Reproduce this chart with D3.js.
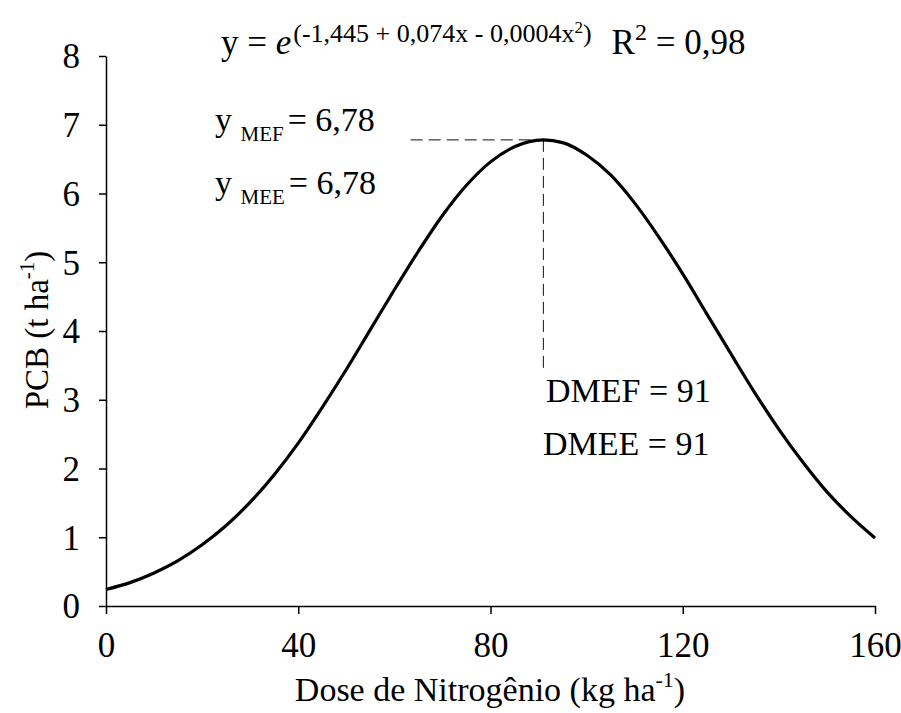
<!DOCTYPE html>
<html>
<head>
<meta charset="utf-8">
<script src="https://cdn.jsdelivr.net/npm/d3@7"></script>
<style>
    body { margin: 0; background: #fff; }
    text { font-family: "Liberation Serif", "Times New Roman", serif; fill: #000; }
</style>
</head>
<body>
<svg></svg>
<script>
let W = 901;
let H = 713;

// curve (dose kg/ha -> PCB t/ha)
let doses = [0, 5, 10, 15, 20, 25, 30, 35, 40, 45, 50, 55, 60, 65, 70, 75, 80, 85, 91,
    95, 100, 105, 110, 115, 120, 125, 130, 135, 140, 145, 150, 155, 160];
let pcb = [0.24, 0.34, 0.48, 0.66, 0.89, 1.17, 1.51, 1.91, 2.37, 2.89, 3.44, 4.02, 4.60, 5.16, 5.68, 6.12, 6.46, 6.68, 6.78,
    6.74, 6.56, 6.27, 5.86, 5.37, 4.83, 4.25, 3.67, 3.10, 2.57, 2.09, 1.66, 1.30, 0.99];

let xTicks = [0, 40, 80, 120, 160];
let yTicks = [0, 1, 2, 3, 4, 5, 6, 7, 8];

let doseMax = 91;
let yMax = 6.78;
let hLineStart = 63.4;
let vLineEnd = 3.39;

let svg = d3.select("svg").attr("width", W).attr("height", H);

let x = d3.scaleLinear().domain([0, 160]).range([106, 875]);
let y = d3.scaleLinear().domain([0, 8]).range([606, 56]);

// axes
let xAxis = svg.append("g")
    .attr("transform", "translate(0," + y(0) + ")")
    .call(d3.axisBottom(x).tickValues(xTicks).tickSize(8).tickSizeOuter(0));

let yAxis = svg.append("g")
    .attr("transform", "translate(" + x(0) + ",0)")
    .call(d3.axisLeft(y).tickValues(yTicks).tickSize(7).tickPadding(19).tickSizeOuter(0));

svg.selectAll(".domain, .tick line").attr("stroke", "#000").attr("stroke-width", 1.5);
svg.selectAll(".tick text")
    .style("font-family", "Liberation Serif")
    .style("font-size", "35px")
    .attr("fill", "#000");
xAxis.selectAll(".tick text").attr("y", 51).attr("dy", 0);
yAxis.selectAll(".tick text").attr("dy", "0.34em");

// dashed guide lines
svg.append("line")
    .attr("x1", x(hLineStart)).attr("y1", y(yMax))
    .attr("x2", x(doseMax)).attr("y2", y(yMax))
    .attr("stroke", "#111").attr("stroke-width", 1).attr("stroke-dasharray", "12,6");
svg.append("line")
    .attr("x1", x(doseMax)).attr("y1", y(yMax))
    .attr("x2", x(doseMax)).attr("y2", y(vLineEnd))
    .attr("stroke", "#111").attr("stroke-width", 1).attr("stroke-dasharray", "12,6");

// curve
let line = d3.line()
    .x(function (d, i) { return x(doses[i]); })
    .y(function (d) { return y(d); })
    .curve(d3.curveMonotoneX);

svg.append("path")
    .attr("d", line(pcb))
    .attr("fill", "none")
    .attr("stroke", "#000")
    .attr("stroke-width", 3.2);

// equation
let eq = svg.append("text").attr("x", 221).attr("y", 54).style("font-size", "35px");
eq.append("tspan").text("y = ");
eq.append("tspan").style("font-style", "italic").text("e");
eq.append("tspan").attr("dx", 2).attr("dy", -12).style("font-size", "26px").text("(-1,445 + 0,074x - 0,0004x");
eq.append("tspan").attr("dy", -9).style("font-size", "17px").text("2");
eq.append("tspan").attr("dy", 9).style("font-size", "26px").text(")");
eq.append("tspan").attr("dy", 12).attr("dx", 20).text("R");
eq.append("tspan").attr("dy", -14).style("font-size", "24px").text("2");
eq.append("tspan").attr("dy", 14).text(" = 0,98");

// maximum annotations
function yLabel(yy, sub) {
    let t = svg.append("text").attr("x", 215).attr("y", yy).style("font-size", "34px");
    t.append("tspan").text("y ");
    t.append("tspan").attr("dy", 10).style("font-size", "21px").text(sub);
    t.append("tspan").attr("dy", -10).attr("dx", 4).text("= 6,78");
}
yLabel(131, "MEF");
yLabel(194, "MEE");

svg.append("text").attr("x", 546).attr("y", 402).style("font-size", "34px").text("DMEF = 91");
svg.append("text").attr("x", 543).attr("y", 455).style("font-size", "34px").text("DMEE = 91");

// axis titles
let xt = svg.append("text")
    .attr("x", 490).attr("y", 701)
    .attr("text-anchor", "middle")
    .style("font-size", "34px");
xt.append("tspan").text("Dose de Nitrogênio (kg ha");
xt.append("tspan").attr("dy", -14).style("font-size", "22px").text("-1");
xt.append("tspan").attr("dy", 14).text(")");

let yt = svg.append("text")
    .attr("transform", "translate(48,330) rotate(-90)")
    .attr("text-anchor", "middle")
    .style("font-size", "33px");
yt.append("tspan").text("PCB (t ha");
yt.append("tspan").attr("dy", -14).style("font-size", "21px").text("-1");
yt.append("tspan").attr("dy", 14).text(")");
</script>
</body>
</html>
